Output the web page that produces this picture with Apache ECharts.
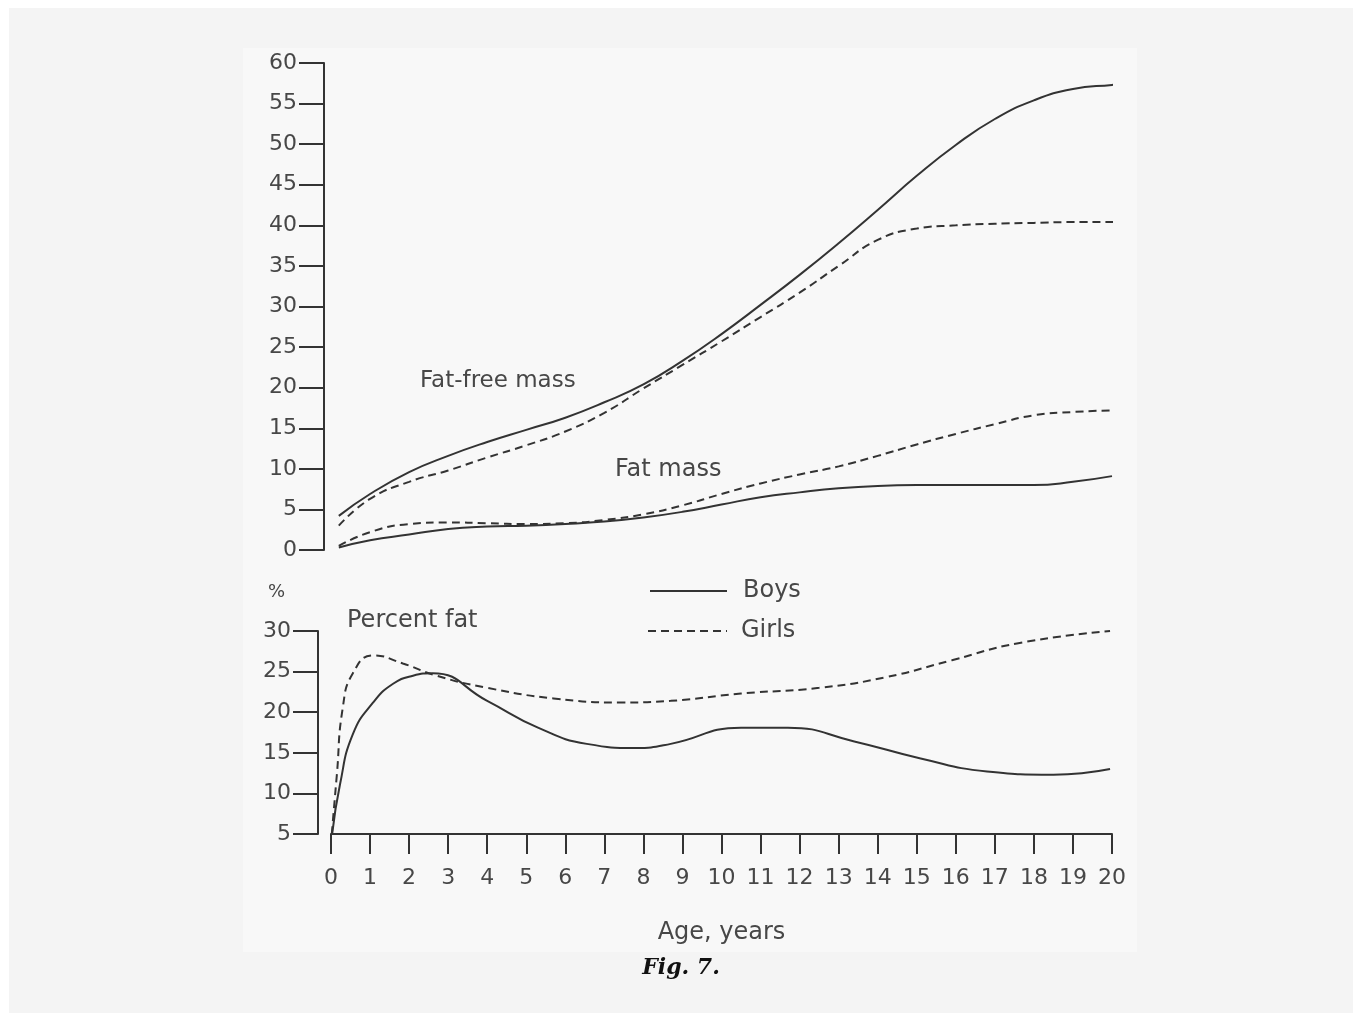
<!DOCTYPE html>
<html>
<head>
<meta charset="utf-8">
<script src="https://cdn.jsdelivr.net/npm/echarts@6/dist/echarts.min.js"></script>
<style>
  html, body { margin: 0; padding: 0; background: #ffffff; }
  #chart { width: 1362px; height: 1014px; }
</style>
</head>
<body>
<div id="chart"></div>
<script>
// ---- Data (age in years) ----
const ageTicks = [0,1,2,3,4,5,6,7,8,9,10,11,12,13,14,15,16,17,18,19,20];
const massTicks = [0,5,10,15,20,25,30,35,40,45,50,55,60];
const pctTicks = [5,10,15,20,25,30];

const boysFatFree = [[0.2,4.2],[1,6.9],[2,9.6],[3,11.6],[4,13.3],[5,14.8],[6,16.3],[7,18.2],[8,20.4],[9,23.3],[10,26.6],[11,30.2],[12,33.9],[13,37.8],[14,41.9],[15,46.1],[16,49.9],[17,53.1],[18,55.4],[19,56.8],[20,57.3],[20.25,57.4]];
const girlsFatFree = [[0.2,3.0],[1,6.3],[2,8.4],[3,9.8],[4,11.4],[5,12.9],[6,14.6],[7,16.9],[8,19.9],[9,22.8],[10,25.7],[11,28.7],[12,31.7],[13,35.0],[14,38.2],[15,39.6],[16,40.0],[17,40.2],[18,40.3],[19,40.4],[20,40.4],[20.2,40.4]];
const boysFat = [[0.2,0.3],[1,1.2],[2,1.9],[3,2.6],[4,2.9],[5,3.0],[6,3.2],[7,3.5],[8,4.0],[9,4.7],[10,5.6],[11,6.5],[12,7.1],[13,7.6],[14,7.9],[15,8.0],[16,8.0],[17,8.0],[18,8.0],[19,8.4],[20,9.1]];
const girlsFat = [[0.2,0.5],[1,2.2],[2,3.2],[3,3.4],[4,3.3],[5,3.2],[6,3.3],[7,3.7],[8,4.4],[9,5.5],[10,6.9],[11,8.2],[12,9.3],[13,10.3],[14,11.6],[15,13.0],[16,14.3],[17,15.5],[18,16.6],[19,17.0],[20,17.2]];
const boysPct = [[0.03,5],[0.23,11.1],[0.56,17.3],[1.08,21.2],[1.59,23.5],[2.1,24.5],[2.6,24.8],[4.0,21.4],[5.3,18.1],[6.55,16.1],[7.8,15.6],[8.7,16.1],[10.5,18.1],[11.7,18.1],[13.4,16.4],[15.1,14.3],[16.8,12.7],[18.5,12.3],[19.95,13.0]];
const girlsPct = [[0.02,5],[0.15,12.3],[0.3,20.5],[0.56,24.8],[1.08,27.0],[1.84,26.0],[2.7,24.5],[4.0,23.0],[5.7,21.7],[7.4,21.2],[8.7,21.4],[10.5,22.3],[12.5,23.0],[14.2,24.3],[15.9,26.4],[17.6,28.5],[19.95,30.0]];

const labels = { fatFree: 'Fat-free mass', fat: 'Fat mass', pct: 'Percent fat', pctUnit: '%', xName: 'Age, years', boys: 'Boys', girls: 'Girls', caption: 'Fig. 7.' };

const INK = '#333333';
const TXT = '#474747';
const FONT = 'DejaVu Sans';
const DASH = [8, 5];

const chart = echarts.init(document.getElementById('chart'), null, { renderer: 'canvas' });

function lineSeries(name, data, xi, yi, dashed) {
  return {
    name: name, type: 'line', xAxisIndex: xi, yAxisIndex: yi,
    data: data, showSymbol: false, symbol: 'none',
    smooth: 0.5, clip: false,
    lineStyle: { color: INK, width: 2, type: dashed ? DASH : 'solid' },
    itemStyle: { color: INK },
    emphasis: { disabled: true }, animation: false
  };
}

const option = {
  backgroundColor: '#ffffff',
  animation: false,
  grid: [
    { left: 331, top: 63, width: 781, height: 487 },
    { left: 331, top: 631, width: 781, height: 203 }
  ],
  xAxis: [
    { gridIndex: 0, type: 'value', min: 0, max: 20, interval: 1,
      axisLine: { show: false }, axisTick: { show: false }, axisLabel: { show: false }, splitLine: { show: false } },
    { gridIndex: 1, type: 'value', min: 0, max: 20, interval: 1,
      axisLine: { show: true, onZero: false, lineStyle: { color: INK, width: 2 } },
      axisTick: { show: true, length: 20, lineStyle: { color: INK, width: 2 } },
      axisLabel: { show: true, margin: 33, fontSize: 22, fontFamily: FONT, color: TXT,
                   formatter: v => ageTicks.includes(v) ? String(v) : '' },
      splitLine: { show: false },
      name: labels.xName, nameLocation: 'middle', nameGap: 87,
      nameTextStyle: { fontSize: 24, fontFamily: FONT, color: TXT } }
  ],
  yAxis: [
    { gridIndex: 0, type: 'value', min: 0, max: 60, interval: 5, offset: 7,
      axisLine: { show: true, onZero: false, lineStyle: { color: INK, width: 2 } },
      axisTick: { show: true, length: 25, lineStyle: { color: INK, width: 2 } },
      axisLabel: { show: true, margin: 27, fontSize: 22, fontFamily: FONT, color: TXT,
                   formatter: v => massTicks.includes(v) ? String(v) : '' },
      splitLine: { show: false } },
    { gridIndex: 1, type: 'value', min: 5, max: 30, interval: 5, offset: 13,
      axisLine: { show: true, onZero: false, lineStyle: { color: INK, width: 2 } },
      axisTick: { show: true, length: 25, lineStyle: { color: INK, width: 2 } },
      axisLabel: { show: true, margin: 27, fontSize: 22, fontFamily: FONT, color: TXT,
                   formatter: v => pctTicks.includes(v) ? String(v) : '' },
      splitLine: { show: false } }
  ],
  graphic: [
    { type: 'rect', z: -100, silent: true, shape: { x: 9, y: 8, width: 1344, height: 1005 }, style: { fill: '#f4f4f4' } },
    { type: 'rect', z: -99, silent: true, shape: { x: 243, y: 48, width: 894, height: 904 }, style: { fill: '#f8f8f8' } },
    { type: 'text', silent: true, left: 420, top: 370, style: { text: labels.fatFree, fontSize: 23, fontFamily: FONT, fill: TXT } },
    { type: 'text', silent: true, left: 615, top: 458, style: { text: labels.fat, fontSize: 24, fontFamily: FONT, fill: TXT } },
    { type: 'text', silent: true, left: 347, top: 609, style: { text: labels.pct, fontSize: 24, fontFamily: FONT, fill: TXT } },
    { type: 'text', silent: true, left: 268, top: 583, style: { text: labels.pctUnit, fontSize: 18, fontFamily: FONT, fill: TXT } },
    // legend key
    { type: 'line', silent: true, shape: { x1: 650, y1: 591, x2: 727, y2: 591 }, style: { stroke: INK, lineWidth: 2 } },
    { type: 'line', silent: true, shape: { x1: 648, y1: 631, x2: 727, y2: 631 }, style: { stroke: INK, lineWidth: 2, lineDash: DASH } },
    { type: 'text', silent: true, left: 743, top: 579, style: { text: labels.boys, fontSize: 24, fontFamily: FONT, fill: TXT } },
    { type: 'text', silent: true, left: 741, top: 619, style: { text: labels.girls, fontSize: 24, fontFamily: FONT, fill: TXT } },
    { type: 'text', silent: true, left: 'center', top: 957, style: { text: labels.caption, fontSize: 22, fontFamily: 'DejaVu Serif', fontWeight: 'bold', fontStyle: 'italic', fill: '#111111' } }
  ],
  series: [
    lineSeries(labels.boys, boysFatFree, 0, 0, false),
    lineSeries(labels.girls, girlsFatFree, 0, 0, true),
    lineSeries(labels.boys, boysFat, 0, 0, false),
    lineSeries(labels.girls, girlsFat, 0, 0, true),
    lineSeries(labels.boys, boysPct, 1, 1, false),
    lineSeries(labels.girls, girlsPct, 1, 1, true)
  ]
};
chart.setOption(option);
</script>
</body>
</html>
